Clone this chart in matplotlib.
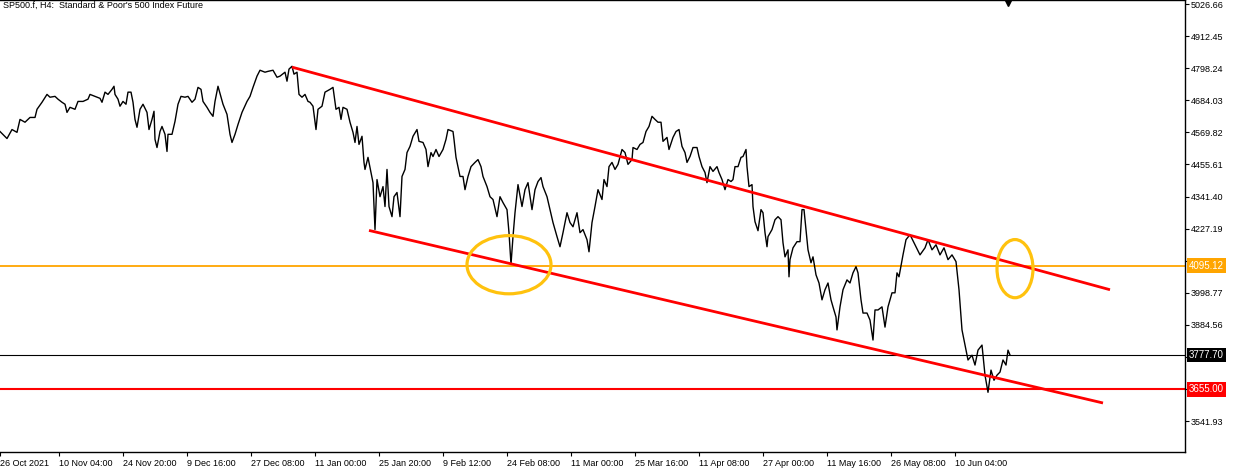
import matplotlib
matplotlib.use('Agg')
import matplotlib.pyplot as plt
from matplotlib.patches import Ellipse

# close prices, H4 bars (bar index -> close)
bars = [0, 7, 12, 17, 20, 25, 30, 35, 37, 42, 47, 50, 55, 58, 62, 65, 67, 70, 75, 78,
        83, 88, 90, 95, 100, 102, 105, 108, 112, 114, 115, 118, 120, 123, 126, 128, 131, 133, 135, 137,
        140, 143, 147, 149, 152, 154, 155, 157, 160, 162, 165, 167, 168, 172, 175, 178, 181, 185, 188, 192,
        195, 198, 201, 203, 207, 210, 213, 215, 218, 221, 223, 227, 230, 232, 235, 238, 242, 247, 250, 253,
        257, 260, 265, 268, 273, 277, 280, 285, 287, 289, 292, 294, 297, 299, 302, 305, 308, 310, 313, 316,
        318, 322, 325, 330, 333, 336, 339, 341, 343, 347, 350, 353, 355, 357, 359, 362, 364, 365, 368, 371,
        373, 375, 377, 380, 383, 385, 387, 389, 392, 394, 397, 400, 402, 405, 407, 410, 413, 417, 419, 423,
        426, 428, 431, 433, 436, 439, 443, 446, 448, 453, 454, 456, 460, 463, 465, 468, 471, 475, 478, 481,
        483, 487, 490, 493, 497, 500, 503, 507, 509, 511, 513, 515, 518, 522, 525, 528, 532, 535, 538, 541,
        543, 547, 550, 553, 557, 560, 563, 567, 570, 573, 577, 580, 583, 587, 589, 592, 595, 598, 602, 604,
        607, 609, 612, 615, 618, 622, 625, 628, 632, 633, 637, 640, 643, 646, 649, 652, 655, 658, 661, 663,
        667, 669, 673, 676, 679, 682, 685, 687, 690, 693, 697, 699, 702, 705, 707, 710, 713, 717, 719, 722,
        725, 728, 731, 733, 735, 738, 741, 743, 746, 747, 749, 752, 753, 755, 758, 761, 763, 765, 767, 768,
        772, 775, 778, 781, 783, 785, 788, 789, 790, 793, 797, 800, 802, 804, 806, 808, 811, 813, 816, 819,
        822, 825, 828, 831, 833, 836, 837, 840, 843, 847, 850, 853, 856, 858, 861, 863, 867, 870, 873, 875,
        878, 882, 885, 888, 892, 895, 897, 899, 903, 906, 910, 915, 920, 925, 928, 932, 936, 940, 944, 948,
        952, 956, 959, 962, 965, 968, 972, 975, 978, 982, 985, 988, 991, 994, 997, 1000, 1003, 1006, 1008, 1010]
closes = [4573, 4548, 4580, 4570, 4616, 4606, 4623, 4623, 4652, 4677, 4705, 4695, 4698, 4688, 4677, 4670, 4641, 4659, 4652, 4680,
          4680, 4688, 4705, 4698, 4691, 4677, 4713, 4705, 4723, 4734, 4705, 4688, 4663, 4680, 4670, 4713, 4713, 4677, 4616, 4588,
          4652, 4670, 4641, 4580, 4616, 4645, 4545, 4516, 4573, 4591, 4563, 4502, 4563, 4563, 4609, 4670, 4698, 4695, 4698, 4677,
          4688, 4730, 4723, 4680, 4659, 4641, 4627, 4680, 4734, 4695, 4670, 4634, 4563, 4534, 4563, 4598, 4641, 4680, 4698, 4730,
          4770, 4791, 4784, 4787, 4791, 4766, 4770, 4784, 4752, 4795, 4805, 4777, 4784, 4705, 4695, 4705, 4680, 4677, 4663, 4580,
          4652, 4663, 4713, 4723, 4730, 4652, 4659, 4616, 4659, 4652, 4606, 4570, 4534, 4591, 4527, 4556, 4463, 4438, 4481, 4427,
          4391, 4224, 4402, 4341, 4377, 4306, 4438, 4306, 4270, 4341, 4356, 4270, 4413, 4438, 4498, 4520, 4556, 4580, 4538, 4534,
          4509, 4448, 4498, 4484, 4509, 4484, 4509, 4545, 4580, 4573, 4545, 4481, 4413, 4413, 4366, 4413, 4448, 4463, 4473, 4448,
          4413, 4377, 4341, 4331, 4270, 4341, 4320, 4295, 4213, 4100, 4199, 4284, 4384, 4306, 4366, 4391, 4295, 4366, 4395, 4409,
          4377, 4341, 4295, 4249, 4199, 4163, 4213, 4284, 4249, 4234, 4284, 4213, 4224, 4188, 4145, 4249, 4306, 4366, 4331, 4402,
          4377, 4448, 4463, 4438, 4456, 4509, 4498, 4456, 4473, 4516, 4509, 4527, 4534, 4573, 4591, 4627, 4616, 4606, 4606, 4538,
          4552, 4509, 4552, 4573, 4580, 4520, 4498, 4463, 4484, 4516, 4516, 4484, 4448, 4427, 4391, 4448, 4431, 4448, 4427, 4402,
          4366, 4402, 4395, 4402, 4448, 4448, 4481, 4484, 4509, 4448, 4377, 4384, 4306, 4252, 4220, 4295, 4284, 4213, 4163, 4199,
          4224, 4259, 4270, 4259, 4177, 4127, 4152, 4056, 4117, 4159, 4181, 4181, 4295, 4295, 4224, 4152, 4106, 4127, 4063, 4034,
          3974, 4010, 4034, 3974, 3949, 3913, 3867, 3949, 4010, 4045, 4034, 4070, 4092, 4070, 3974, 3927, 3927, 3902, 3831, 3938,
          3938, 3949, 3877, 3949, 3999, 3999, 4070, 4056, 4134, 4188, 4206, 4170, 4134, 4159, 4188, 4152, 4170, 4134, 4159, 4117,
          4134, 4110, 4010, 3867, 3813, 3760, 3777, 3742, 3795, 3813, 3706, 3645, 3724, 3688, 3706, 3717, 3760, 3742, 3795, 3777.70]

xtick_bars = [0, 59, 123, 187, 251, 315, 379, 443, 507, 571, 635, 699, 763, 827, 891, 955]
xtick_labels = ['26 Oct 2021', '10 Nov 04:00', '24 Nov 20:00', '9 Dec 16:00', '27 Dec 08:00',
                '11 Jan 00:00', '25 Jan 20:00', '9 Feb 12:00', '24 Feb 08:00', '11 Mar 00:00',
                '25 Mar 16:00', '11 Apr 08:00', '27 Apr 00:00', '11 May 16:00', '26 May 08:00',
                '10 Jun 04:00']
yticks = [3541.93, 3656.14, 3770.35, 3884.56, 3998.77, 4112.98, 4227.19, 4341.40,
          4455.61, 4569.82, 4684.03, 4798.24, 4912.45, 5026.66]
# these two sit under the price boxes in the terminal, so no text for them
hidden_ticks = [3656.14, 3770.35]

# trend channel (bar, price)
upper_bars = [292, 1110]
upper_prices = [4802, 4010]
lower_bars = [369, 1103]
lower_prices = [4221, 3607]

level_orange = 4095.12
level_last = 3777.70
level_red = 3655.00

# circled areas: (bar, price, width in bars, height in price)
circles = [(509, 4099, 84, 207), (1015, 4085, 36, 207)]

title = "SP500.f, H4:  Standard & Poor's 500 Index Future"

plt.rcParams['font.family'] = ['Liberation Sans', 'DejaVu Sans']

fig = plt.figure(figsize=(12.36, 4.69), dpi=100)
ax = fig.add_axes([0, 17 / 469, 1185 / 1236, 452 / 469])

ax.set_xlim(0, 1185)
ax.set_ylim(3432.6, 5040.9)

ax.plot(bars, closes, color='black', lw=1.0, zorder=3)

ax.axhline(level_orange, color='#FFA500', lw=1.3, zorder=2)
ax.axhline(level_last, color='black', lw=0.8, zorder=2)
ax.axhline(level_red, color='#FF0000', lw=1.5, zorder=2)

ax.plot(upper_bars, upper_prices, color='#FF0000', lw=2.0, zorder=4, solid_capstyle='butt')
ax.plot(lower_bars, lower_prices, color='#FF0000', lw=2.0, zorder=4, solid_capstyle='butt')

for cx, cy, w, h in circles:
    ax.add_patch(Ellipse((cx, cy), w, h, fill=False, ec='#FFC20E', lw=2.3, zorder=5))

# axes style
for s in ['top', 'right', 'bottom']:
    ax.spines[s].set_color('black')
    ax.spines[s].set_linewidth(1.0)
ax.spines['left'].set_visible(False)

ax.yaxis.tick_right()
ax.set_yticks(yticks)
ax.set_yticklabels(['' if v in hidden_ticks else '{:.2f}'.format(v) for v in yticks])
ax.tick_params(axis='y', direction='out', length=3, width=0.8, pad=1, labelsize=6.5, colors='black')

ax.set_xticks(xtick_bars)
ax.set_xticklabels(xtick_labels, ha='left')
ax.tick_params(axis='x', direction='out', length=3, width=0.8, pad=2, labelsize=6.5, colors='black')

# price labels on the right axis
trans = ax.get_yaxis_transform()
for val, col in [(level_orange, '#FFA500'), (level_last, 'black'), (level_red, '#FF0000')]:
    ax.text(1 + 4 / 1185, val, '{:.2f}'.format(val), transform=trans, ha='left', va='center',
            fontsize=7, color='white', clip_on=False, zorder=10,
            bbox=dict(boxstyle='square,pad=0.25', fc=col, ec='none'))

# title
ax.text(3 / 1185, 1 - 5 / 452, title, transform=ax.transAxes, ha='left', va='center',
        fontsize=6.5, color='black', zorder=10)

# shift marker
ax.plot([1008], [1 - 3 / 452], marker='v', color='black', markersize=5,
        transform=ax.get_xaxis_transform(), clip_on=False, zorder=10)

fig.savefig('out.png', dpi=100)
